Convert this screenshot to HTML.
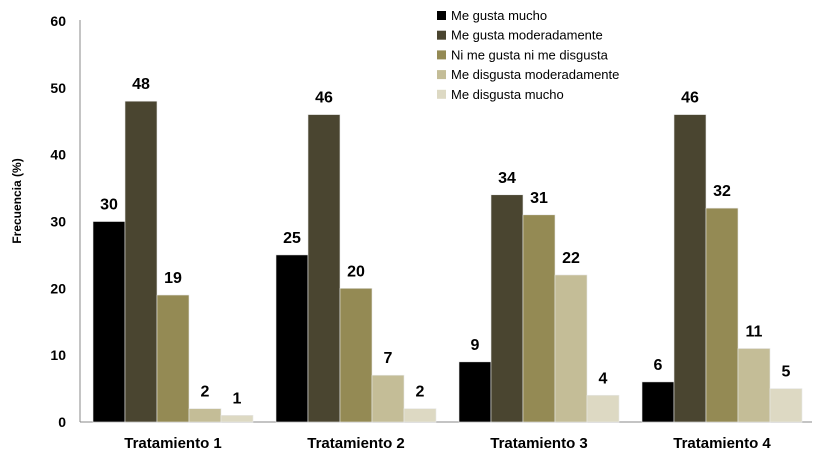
<!DOCTYPE html>
<html><head><meta charset="utf-8"><style>
body{margin:0;background:#fff}
svg{display:block;font-family:"Liberation Sans",Arial,sans-serif}
</style></head><body>
<svg id="c" width="813" height="455"></svg>
<script>
const categories=["Tratamiento 1","Tratamiento 2","Tratamiento 3","Tratamiento 4"];
const seriesNames=["Me gusta mucho","Me gusta moderadamente","Ni me gusta ni me disgusta","Me disgusta moderadamente","Me disgusta mucho"];
const s1=[30,25,9,6];
const s2=[48,46,34,46];
const s3=[19,20,31,32];
const s4=[2,7,22,11];
const s5=[1,2,4,5];
const yTicks=[0,10,20,30,40,50,60];
const series=[s1,s2,s3,s4,s5];
const colors=["#000000","#4a4530","#948a54","#c4bd97","#ddd9c3"];
const NS="http://www.w3.org/2000/svg";
const svg=document.getElementById('c');
const x0=80,y0=422,yTop=21,groupW=183,barW=32,groupOff=13;
const y=v=>y0-(v/60)*(y0-yTop);
const gx=i=>x0+i*groupW+groupOff;
function mk(t,a,txt){const e=document.createElementNS(NS,t);for(const k in a)e.setAttribute(k,a[k]);if(txt!==undefined)e.textContent=txt;svg.appendChild(e);return e;}
let e;
e=mk('line',{x1:x0,y1:yTop-1,x2:x0,y2:y0,stroke:'#888','stroke-width':1});


e=mk('line',{x1:x0,y1:y0,x2:812,y2:y0,stroke:'#888','stroke-width':1});


yTicks.forEach(t=>{
  e=mk('text',{x:66,y:y(t)+5,'text-anchor':'end','font-size':14,'font-weight':'bold'},t);
  
  
});
e=mk('text',{x:0,y:0,transform:'translate(21,201) rotate(-90)','text-anchor':'middle','font-size':12,'font-weight':'bold'},'Frecuencia (%)');


categories.forEach((c,i)=>{
  series.forEach((s,j)=>{
    const bx=gx(i)+j*barW, v=s[i];
    e=mk('rect',{x:bx,y:y(v),width:barW,height:y0-y(v),fill:colors[j],stroke:'#e8e8e8','stroke-width':0.6});
    
    
    e=mk('text',{x:bx+barW/2,y:y(v)-12,'text-anchor':'middle','font-size':16,'font-weight':'bold'},v);
    
    
  });
  e=mk('text',{x:gx(i)+barW*2.5,y:448,'text-anchor':'middle','font-size':15,'font-weight':'bold'},c);
  
  
});
seriesNames.forEach((n,j)=>{
  const ly=15+j*19.7;
  e=mk('rect',{x:437,y:ly-4,width:9,height:9,fill:colors[j]});
  
  
  e=mk('text',{x:451,y:ly+5,'font-size':13},n);
  
  
});
</script>
</body></html>
